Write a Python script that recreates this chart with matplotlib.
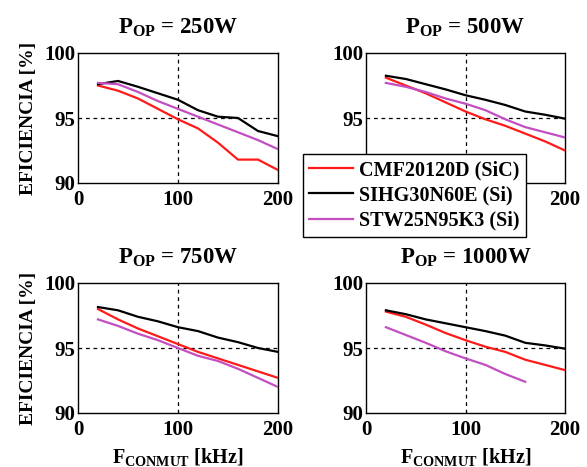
import matplotlib
matplotlib.use("Agg")
import matplotlib.pyplot as plt

plt.rcParams['font.family'] = ['Liberation Serif', 'DejaVu Serif']
plt.rcParams['font.weight'] = 'bold'
plt.rcParams['mathtext.fontset'] = 'custom'
plt.rcParams['mathtext.rm'] = 'Liberation Serif:bold'
plt.rcParams['mathtext.bf'] = 'Liberation Serif:bold'
plt.rcParams['mathtext.it'] = 'Liberation Serif:bold'

# Switching frequency (kHz)
freq = [20, 40, 60, 80, 100, 120, 140, 160, 180, 200]
freq_1000_stw = [20, 40, 60, 80, 100, 120, 140, 160]

devices = ["CMF20120D (SiC)", "SIHG30N60E (Si)", "STW25N95K3 (Si)"]
colors = ["#ff1a1a", "#000000", "#c24ec2"]

powers = ["250W", "500W", "750W", "1000W"]

# Efficiency (%) per operating power
eff_250_cmf = [97.5, 97.1, 96.5, 95.7, 94.9, 94.2, 93.1, 91.8, 91.8, 91.0]
eff_250_sihg = [97.6, 97.85, 97.4, 96.9, 96.4, 95.6, 95.1, 95.0, 94.0, 93.6]
eff_250_stw = [97.7, 97.6, 97.0, 96.3, 95.7, 95.1, 94.5, 93.9, 93.3, 92.6]

eff_500_cmf = [98.1, 97.5, 96.9, 96.2, 95.5, 94.9, 94.4, 93.8, 93.2, 92.5]
eff_500_sihg = [98.25, 98.0, 97.6, 97.2, 96.75, 96.4, 96.0, 95.5, 95.25, 94.95]
eff_500_stw = [97.7, 97.4, 97.0, 96.5, 96.1, 95.6, 94.9, 94.3, 93.9, 93.5]

eff_750_cmf = [98.0, 97.2, 96.5, 95.9, 95.3, 94.7, 94.2, 93.7, 93.2, 92.7]
eff_750_sihg = [98.15, 97.9, 97.4, 97.05, 96.6, 96.3, 95.8, 95.45, 95.0, 94.7]
eff_750_stw = [97.2, 96.7, 96.1, 95.6, 95.0, 94.4, 94.0, 93.4, 92.7, 92.0]

eff_1000_cmf = [97.8, 97.4, 96.8, 96.15, 95.6, 95.1, 94.7, 94.1, 93.7, 93.3]
eff_1000_sihg = [97.9, 97.6, 97.2, 96.9, 96.6, 96.3, 95.95, 95.4, 95.2, 94.95]
eff_1000_stw = [96.6, 96.0, 95.4, 94.75, 94.2, 93.7, 93.0, 92.4]

panels = [
    (powers[0], [(freq, eff_250_cmf), (freq, eff_250_sihg), (freq, eff_250_stw)]),
    (powers[1], [(freq, eff_500_cmf), (freq, eff_500_sihg), (freq, eff_500_stw)]),
    (powers[2], [(freq, eff_750_cmf), (freq, eff_750_sihg), (freq, eff_750_stw)]),
    (powers[3], [(freq, eff_1000_cmf), (freq, eff_1000_sihg), (freq_1000_stw, eff_1000_stw)]),
]

W, H = 587, 467
fig = plt.figure(figsize=(W / 100, H / 100), dpi=100)

# axes boxes in pixels: (left, top, right, bottom)
boxes = [(78, 53, 278, 183), (366, 53, 565, 183),
         (78, 283, 278, 413), (366, 283, 565, 413)]

handles = []
for i, ((pw, series), (l, t, r, b)) in enumerate(zip(panels, boxes)):
    ax = fig.add_axes([l / W, 1 - b / H, (r - l) / W, (b - t) / H])
    ax.axvline(100, color='black', ls=(0, (3, 3)), lw=0.9, zorder=1)
    ax.axhline(95, color='black', ls=(0, (3, 3)), lw=0.9, zorder=1)
    for k, (xs, ys) in enumerate(series):
        h, = ax.plot(xs, ys, color=colors[k], lw=1.6, label=devices[k], zorder=3)
        if i == 0:
            handles.append(h)
    ax.set_xlim(0, 200)
    ax.set_ylim(90, 100)
    ax.set_xticks([0, 100, 200])
    ax.set_yticks([90, 95, 100])
    if i == 1:
        # labels sitting under the legend box are left out
        ax.set_xticklabels(['', '', '200'])
        ax.set_yticklabels(['', '95', '100'])
    ax.tick_params(length=0, labelsize=15)
    ax.tick_params(axis='x', pad=5)
    ax.tick_params(axis='y', pad=2)
    for lab in ax.get_xticklabels() + ax.get_yticklabels():
        lab.set_fontweight('bold')
    for sp in ax.spines.values():
        sp.set_linewidth(1.0)
    ax.spines['top'].set_linestyle((0, (2, 1)))
    ax.set_title(r'$\mathbf{P_{OP}}$ = ' + pw, fontsize=16.5, fontweight='bold', pad=14)
    if i % 2 == 0:
        ax.set_ylabel('EFICIENCIA [%]', fontsize=14, fontweight='bold', labelpad=5)
    if i >= 2:
        ax.set_xlabel(r'$\mathbf{F_{CONMUT}}$ [kHz]', fontsize=14.5, fontweight='bold', labelpad=4)

leg = fig.legend(handles=handles, loc='upper left',
                 bbox_to_anchor=(303 / W, 1 - 154 / H),
                 frameon=True, fancybox=False, edgecolor='black', framealpha=1,
                 prop={'family': 'Liberation Serif', 'weight': 'bold', 'size': 14.5},
                 handlelength=2.2, handletextpad=0.3, borderpad=0.3,
                 labelspacing=0.27, borderaxespad=0)
leg.get_frame().set_linewidth(1.0)
leg.set_zorder(10)

fig.savefig('out.png', dpi=100)
